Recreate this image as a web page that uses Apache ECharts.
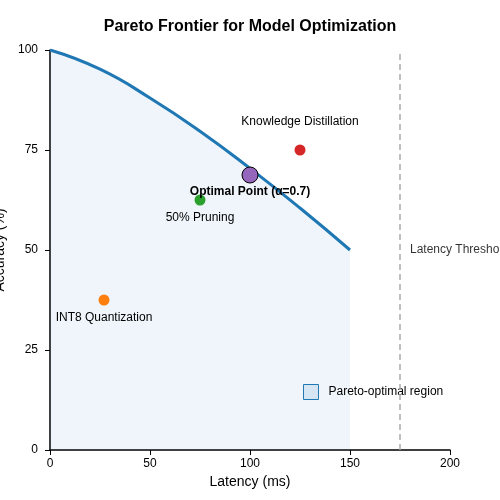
<!DOCTYPE html>
<html><head><meta charset="utf-8">
<script src="https://cdn.jsdelivr.net/npm/echarts@6/dist/echarts.min.js"></script>
<style>html,body{margin:0;padding:0}#c{width:500px;height:500px}</style>
</head><body><div id="c"></div>
<script>
const frontierX = [0, 25, 50, 75, 100, 125, 150];
const frontierY = [100, 95.2, 88, 79.7, 70.4, 60.5, 50];
const pointNames = ['INT8 Quantization', '50% Pruning', 'Optimal Point (α=0.7)', 'Knowledge Distillation'];
const pointX = [27, 75, 100, 125];
const pointY = [37.5, 62.5, 68.75, 75];
const pointColors = ['#ff7f0e', '#2ca02c', '#9467bd', '#d62728'];
const thresholdX = 175;
const xTicks = [0, 50, 100, 150, 200];
const yTicks = [0, 25, 50, 75, 100];

const font = 'Liberation Sans, Arial, sans-serif';
const labelPos = [
  {position: 'bottom', distance: 6, fontWeight: 'normal'},
  {position: 'bottom', distance: 6, fontWeight: 'normal'},
  {position: 'bottom', distance: 2, fontWeight: 'bold'},
  {position: 'top', distance: 17, fontWeight: 'normal'}
];
const scatterData = pointNames.map((n, i) => ({
  name: n, value: [pointX[i], pointY[i]],
  symbolSize: i === 2 ? 16 : 11,
  itemStyle: {color: pointColors[i], opacity: 1, borderColor: i === 2 ? '#000' : pointColors[i], borderWidth: i === 2 ? 1 : 0},
  label: {show: true, formatter: n, color: '#000', fontSize: 12, fontFamily: font,
    position: labelPos[i].position, distance: labelPos[i].distance, fontWeight: labelPos[i].fontWeight}
}));

const chart = echarts.init(document.getElementById('c'));
chart.setOption({
  animation: false,
  title: {text: 'Pareto Frontier for Model Optimization', left: 'center', top: 14,
    textStyle: {fontSize: 16, fontWeight: 'bold', fontFamily: font, color: '#000'}},
  grid: {left: 50, right: 50, top: 50, bottom: 50, containLabel: false, outerBoundsMode: 'none'},
  legend: {left: 298, top: 379, itemWidth: 15, itemHeight: 15, itemGap: 10,
    textStyle: {fontSize: 12, fontFamily: font, color: '#000', padding: [0, 0, 0, 5]},
    data: [{name: 'Pareto-optimal region', icon: 'rect',
      itemStyle: {color: '#d6e5f3', borderColor: '#1f77b4', borderWidth: 1}}]},
  xAxis: {type: 'value', min: 0, max: 200, interval: 50, name: 'Latency (ms)', nameLocation: 'middle', nameGap: 18,
    nameTextStyle: {fontSize: 14, fontFamily: font, color: '#000'},
    axisLine: {lineStyle: {color: '#000', width: 1.5}}, axisTick: {show: true, length: 5, lineStyle: {color: '#000'}},
    axisLabel: {color: '#000', fontSize: 12, fontFamily: font, margin: 8}, splitLine: {show: false}},
  yAxis: {type: 'value', min: 0, max: 100, interval: 25, name: 'Accuracy (%)', nameLocation: 'middle', nameGap: 38,
    nameTextStyle: {fontSize: 14, fontFamily: font, color: '#000'},
    axisLine: {show: true, lineStyle: {color: '#000', width: 1.5}}, axisTick: {show: true, length: 5, lineStyle: {color: '#000'}},
    axisLabel: {color: '#000', fontSize: 12, fontFamily: font, margin: 12}, splitLine: {show: false}},
  series: [
    {name: 'Pareto-optimal region', type: 'line', smooth: true, symbol: 'none',
      data: frontierX.map((x, i) => [x, frontierY[i]]),
      lineStyle: {color: '#1f77b4', width: 3},
      itemStyle: {color: '#d6e5f3'},
      areaStyle: {color: 'rgba(31,119,180,0.1)', origin: 'start'},
      markLine: {silent: true, symbol: 'none', label: {show: false},
        lineStyle: {color: '#aaaaaa', type: [6, 4], width: 1.5},
        data: [{xAxis: thresholdX}]}},
    {name: 'points', type: 'scatter', data: scatterData, z: 5},
    {name: 'threshold', type: 'scatter', symbolSize: 0,
      data: [{value: [thresholdX + 5, 50], label: {show: true, formatter: 'Latency Threshold', position: 'right', distance: 0,
        color: '#000', fontSize: 12, fontFamily: font}}]}
  ]
});
</script></body></html>
